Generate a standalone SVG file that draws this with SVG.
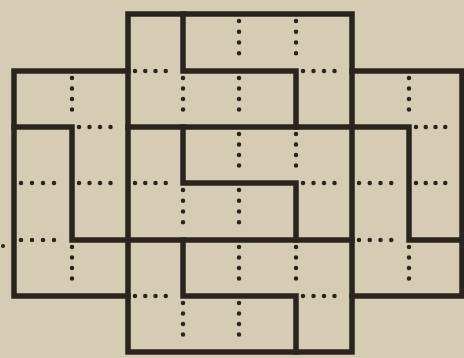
<svg xmlns="http://www.w3.org/2000/svg" width="464" height="358" viewBox="0 0 464 358">
<style>
.bg{fill:#d6ccb4}
.s{fill:none;stroke:#2a241f;stroke-width:5.5;stroke-linecap:square;stroke-linejoin:miter}
.d{fill:none;stroke:#2a241f;stroke-width:4.5;stroke-linecap:round;stroke-dasharray:0 1}
</style>
<rect class="bg" x="0" y="0" width="464" height="358"/>
<g id="solid">
<path class="s" d="M128,14H352V352H128Z"/>
<path class="s" d="M128,71H14V296H128"/>
<path class="s" d="M352,71H462V296H352"/>
<path class="s" d="M183,14V71H296V127"/>
<path class="s" d="M14,127H72V240H128"/>
<path class="s" d="M128,127H409V240H462"/>
<path class="s" d="M183,127V183H296V240"/>
<path class="s" d="M128,240H352"/>
<path class="s" d="M183,240V296H296V352"/>
</g>
<g id="dotted">
<line class="d" pathLength="4" x1="239" y1="21" x2="239" y2="64"/>
<line class="d" pathLength="4" x1="296" y1="21" x2="296" y2="64"/>
<line class="d" pathLength="4" x1="72" y1="78" x2="72" y2="120"/>
<line class="d" pathLength="4" x1="183" y1="78" x2="183" y2="120"/>
<line class="d" pathLength="4" x1="239" y1="78" x2="239" y2="120"/>
<line class="d" pathLength="4" x1="409" y1="78" x2="409" y2="120"/>
<line class="d" pathLength="4" x1="239" y1="134" x2="239" y2="176"/>
<line class="d" pathLength="4" x1="296" y1="134" x2="296" y2="176"/>
<line class="d" pathLength="4" x1="183" y1="190" x2="183" y2="233"/>
<line class="d" pathLength="4" x1="239" y1="190" x2="239" y2="233"/>
<line class="d" pathLength="4" x1="72" y1="247" x2="72" y2="289"/>
<line class="d" pathLength="4" x1="239" y1="247" x2="239" y2="289"/>
<line class="d" pathLength="4" x1="296" y1="247" x2="296" y2="289"/>
<line class="d" pathLength="4" x1="409" y1="247" x2="409" y2="289"/>
<line class="d" pathLength="4" x1="183" y1="303" x2="183" y2="345"/>
<line class="d" pathLength="4" x1="239" y1="303" x2="239" y2="345"/>
<line class="d" pathLength="4" x1="135" y1="71" x2="176" y2="71"/>
<line class="d" pathLength="4" x1="303" y1="71" x2="345" y2="71"/>
<line class="d" pathLength="4" x1="79" y1="127" x2="121" y2="127"/>
<line class="d" pathLength="4" x1="416" y1="127" x2="455" y2="127"/>
<line class="d" pathLength="4" x1="21" y1="183" x2="65" y2="183"/>
<line class="d" pathLength="4" x1="79" y1="183" x2="121" y2="183"/>
<line class="d" pathLength="4" x1="135" y1="183" x2="176" y2="183"/>
<line class="d" pathLength="4" x1="303" y1="183" x2="345" y2="183"/>
<line class="d" pathLength="4" x1="359" y1="183" x2="402" y2="183"/>
<line class="d" pathLength="4" x1="416" y1="183" x2="455" y2="183"/>
<line class="d" pathLength="4" x1="21" y1="240" x2="65" y2="240"/>
<line class="d" pathLength="4" x1="359" y1="240" x2="402" y2="240"/>
<line class="d" pathLength="4" x1="135" y1="296" x2="176" y2="296"/>
<line class="d" pathLength="4" x1="303" y1="296" x2="345" y2="296"/>
</g>
<circle cx="3" cy="246" r="2" fill="#2a241f"/>
</svg>
